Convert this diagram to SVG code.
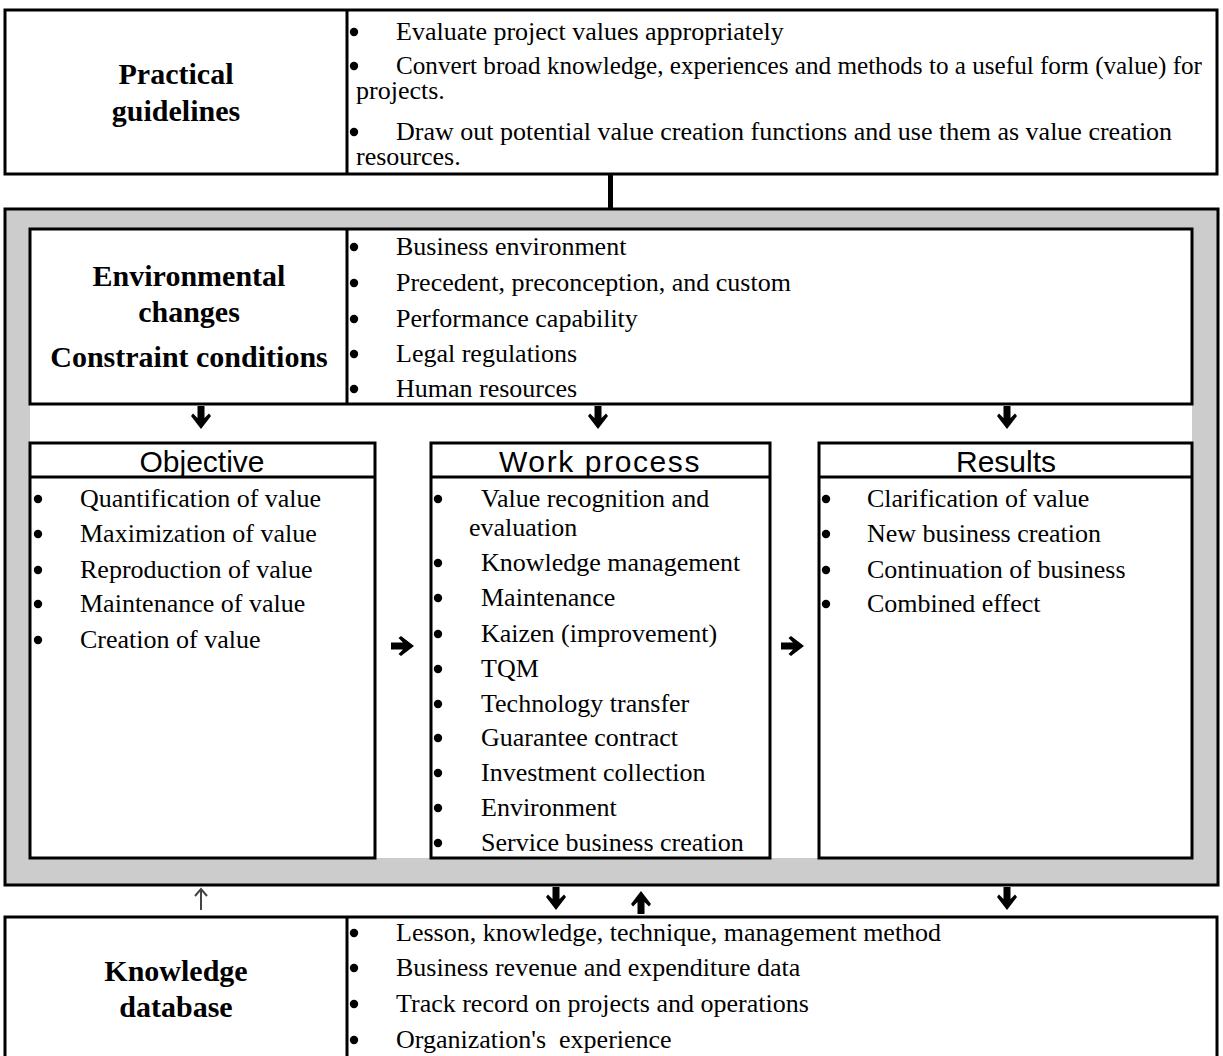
<svg xmlns="http://www.w3.org/2000/svg" width="1223" height="1056" viewBox="0 0 1223 1056">
<style>
.box{fill:#fff;stroke:#000;stroke-width:3}
.ln{stroke:#000;stroke-width:3;fill:none}
.t{font-family:"Liberation Serif","Times New Roman",serif;font-size:26px;fill:#000}
.b{font-family:"Liberation Serif","Times New Roman",serif;font-size:30px;font-weight:bold;fill:#000;text-anchor:middle}
.h{font-family:"Liberation Sans",Arial,sans-serif;font-size:30px;fill:#000;text-anchor:middle}
</style>
<defs>
<path id="adown" d="M-3.5,0 H3.5 V12 L8,7.5 L10,10 L0,23 L-10,10 L-8,7.5 L-3.5,12 Z"/>
<circle id="bul" r="4.2"/>
</defs>
<rect width="1223" height="1056" fill="#fff"/>

<g id="practical-guidelines">
<rect class="box" x="5" y="10" width="1212" height="164"/>
<line class="ln" x1="347" y1="10" x2="347" y2="174"/>
<text class="b" x="176" y="84">Practical</text>
<text class="b" x="176" y="121">guidelines</text>
<use href="#bul" x="354" y="32"/><text class="t" x="396" y="40">Evaluate project values appropriately</text>
<use href="#bul" x="354" y="66"/><text class="t" x="396" y="74" textLength="806" lengthAdjust="spacingAndGlyphs">Convert broad knowledge, experiences and methods to a useful form (value) for</text>
<text class="t" x="356" y="99">projects.</text>
<use href="#bul" x="354" y="132"/><text class="t" x="396" y="140">Draw out potential value creation functions and use them as value creation</text>
<text class="t" x="356" y="165">resources.</text>
</g>

<g id="frame">
<rect x="5" y="209" width="1213" height="676" fill="#ccc" stroke="#000" stroke-width="3"/>
<rect x="30" y="229" width="1162" height="629" fill="#fff"/>
</g>

<g id="environment">
<rect class="box" x="30" y="229" width="1162" height="175"/>
<line class="ln" x1="347" y1="229" x2="347" y2="404"/>
<text class="b" x="189" y="286">Environmental</text>
<text class="b" x="189" y="322">changes</text>
<text class="b" x="189" y="367">Constraint conditions</text>
<use href="#bul" x="354" y="247"/><text class="t" x="396" y="255">Business environment</text>
<use href="#bul" x="354" y="283"/><text class="t" x="396" y="291">Precedent, preconception, and custom</text>
<use href="#bul" x="354" y="319"/><text class="t" x="396" y="327">Performance capability</text>
<use href="#bul" x="354" y="354"/><text class="t" x="396" y="362">Legal regulations</text>
<use href="#bul" x="354" y="389"/><text class="t" x="396" y="397">Human resources</text>
</g>

<g id="objective">
<rect class="box" x="30" y="443" width="345" height="415"/>
<line class="ln" x1="30" y1="477" x2="375" y2="477"/>
<text class="h" x="202" y="472">Objective</text>
<use href="#bul" x="38" y="499"/><text class="t" x="80" y="507">Quantification of value</text>
<use href="#bul" x="38" y="534"/><text class="t" x="80" y="542">Maximization of value</text>
<use href="#bul" x="38" y="570"/><text class="t" x="80" y="578">Reproduction of value</text>
<use href="#bul" x="38" y="604"/><text class="t" x="80" y="612">Maintenance of value</text>
<use href="#bul" x="38" y="640"/><text class="t" x="80" y="648">Creation of value</text>
</g>

<g id="work-process">
<rect class="box" x="431" y="443" width="339" height="415"/>
<line class="ln" x1="431" y1="477" x2="770" y2="477"/>
<text class="h" x="600" y="472" letter-spacing="1.6">Work process</text>
<use href="#bul" x="438" y="499"/><text class="t" x="481" y="507">Value recognition and</text>
<text class="t" x="469" y="536">evaluation</text>
<use href="#bul" x="438" y="563"/><text class="t" x="481" y="571">Knowledge management</text>
<use href="#bul" x="438" y="598"/><text class="t" x="481" y="606">Maintenance</text>
<use href="#bul" x="438" y="634"/><text class="t" x="481" y="642">Kaizen (improvement)</text>
<use href="#bul" x="438" y="669"/><text class="t" x="481" y="677">TQM</text>
<use href="#bul" x="438" y="704"/><text class="t" x="481" y="712">Technology transfer</text>
<use href="#bul" x="438" y="738"/><text class="t" x="481" y="746">Guarantee contract</text>
<use href="#bul" x="438" y="773"/><text class="t" x="481" y="781">Investment collection</text>
<use href="#bul" x="438" y="808"/><text class="t" x="481" y="816">Environment</text>
<use href="#bul" x="438" y="843"/><text class="t" x="481" y="851">Service business creation</text>
</g>

<g id="results">
<rect class="box" x="819" y="443" width="373" height="415"/>
<line class="ln" x1="819" y1="477" x2="1192" y2="477"/>
<text class="h" x="1006" y="472">Results</text>
<use href="#bul" x="826" y="499"/><text class="t" x="867" y="507">Clarification of value</text>
<use href="#bul" x="826" y="534"/><text class="t" x="867" y="542">New business creation</text>
<use href="#bul" x="826" y="570"/><text class="t" x="867" y="578">Continuation of business</text>
<use href="#bul" x="826" y="604"/><text class="t" x="867" y="612">Combined effect</text>
</g>

<g id="knowledge-database">
<rect class="box" x="5" y="917" width="1212" height="150"/>
<line class="ln" x1="347" y1="917" x2="347" y2="1067"/>
<text class="b" x="176" y="981">Knowledge</text>
<text class="b" x="176" y="1017">database</text>
<use href="#bul" x="354" y="933"/><text class="t" x="396" y="941">Lesson, knowledge, technique, management method</text>
<use href="#bul" x="354" y="968"/><text class="t" x="396" y="976">Business revenue and expenditure data</text>
<use href="#bul" x="354" y="1004"/><text class="t" x="396" y="1012">Track record on projects and operations</text>
<use href="#bul" x="354" y="1040"/><text class="t" x="396" y="1048">Organization's&#160; experience</text>
</g>

<g id="connectors">
<rect x="608" y="174" width="5" height="35" fill="#000"/>
<use href="#adown" transform="translate(201,406)"/>
<use href="#adown" transform="translate(598,406)"/>
<use href="#adown" transform="translate(1007,406)"/>
<use href="#adown" transform="translate(391,646) rotate(-90)"/>
<use href="#adown" transform="translate(781,646) rotate(-90)"/>
<use href="#adown" transform="translate(556,887)"/>
<use href="#adown" transform="translate(641,914) rotate(180)"/>
<use href="#adown" transform="translate(1007,887)"/>
<line x1="201" y1="889" x2="201" y2="910" stroke="#444" stroke-width="2"/>
<polyline points="195,896 201,889 207,896" fill="none" stroke="#444" stroke-width="2"/>
</g>
</svg>
